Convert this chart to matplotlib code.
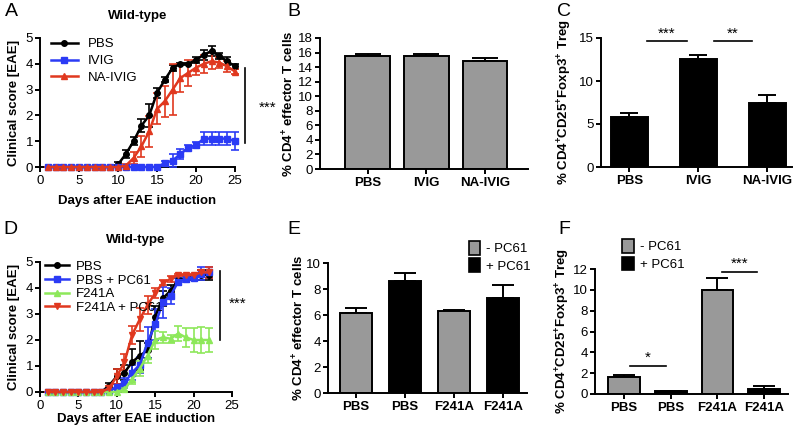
import numpy as np
from matplotlib import pyplot as plt
from matplotlib.lines import Line2D

plt.rcParams['font.family'] = ['Liberation Sans', 'DejaVu Sans']
plt.rcParams['mathtext.default'] = 'regular'
plt.rcParams['axes.linewidth'] = 1.4
plt.rcParams['xtick.major.width'] = 1.4
plt.rcParams['ytick.major.width'] = 1.4
plt.rcParams['xtick.major.size'] = 3.5
plt.rcParams['ytick.major.size'] = 3.5
plt.rcParams['xtick.major.pad'] = 2
plt.rcParams['ytick.major.pad'] = 1.5
plt.rcParams['xtick.labelsize'] = 9.5
plt.rcParams['ytick.labelsize'] = 9.5

# ---- panel A data (days 1..25)
days_a = list(range(1, 26))
pbs_a = [0] * 9 + [0.1, 0.5, 1.0, 1.6, 2.0, 2.87, 3.38, 3.84, 4.0, 4.0, 4.15, 4.35, 4.5, 4.3, 4.1, 3.9]
pbs_a_err = [0] * 9 + [0.1, 0.15, 0.15, 0.25, 0.45, 0.2, 0.1, 0.1, 0.05, 0.05, 0.1, 0.2, 0.2, 0.1, 0.15, 0.1]
ivig_a = [0] * 15 + [0.15, 0.25, 0.5, 0.75, 0.85, 1.1, 1.1, 1.1, 1.1, 1.0]
ivig_a_err = [0] * 15 + [0.1, 0.25, 0.2, 0.1, 0.1, 0.25, 0.25, 0.25, 0.25, 0.35]
naivig_a = [0] * 10 + [0.05, 0.35, 0.8, 1.38, 2.25, 2.55, 3.0, 3.45, 3.65, 3.85, 4.0, 4.1, 4.05, 3.9, 3.7]
naivig_a_err = [0] * 10 + [0.05, 0.25, 0.4, 0.6, 0.6, 0.6, 1.0, 0.55, 0.5, 0.3, 0.35, 0.3, 0.2, 0.2, 0.1]

# ---- panel B / C data
groups_bc = ['PBS', 'IVIG', 'NA-IVIG']
eff_b = [15.5, 15.5, 14.9]
eff_b_err = [0.25, 0.35, 0.35]
treg_c = [5.8, 12.6, 7.5]
treg_c_err = [0.5, 0.45, 0.85]

# ---- panel D data (days 1..22)
days_d = list(range(1, 23))
pbs_d = [0] * 8 + [0.25, 0.6, 0.75, 1.15, 1.4, 1.6, 2.9, 3.6, 3.9, 4.3, 4.4, 4.4, 4.5, 4.5]
pbs_d_err = [0] * 8 + [0.1, 0.3, 0.3, 0.5, 0.55, 0.3, 0.4, 0.3, 0.2, 0.1, 0.1, 0.1, 0.2, 0.2]
pbspc_d = [0] * 8 + [0.05, 0.2, 0.35, 0.75, 1.05, 1.9, 2.6, 3.45, 3.7, 4.25, 4.35, 4.4, 4.55, 4.6]
pbspc_d_err = [0] * 8 + [0.05, 0.1, 0.2, 0.3, 0.3, 0.6, 0.6, 0.6, 0.3, 0.15, 0.1, 0.1, 0.25, 0.2]
f241_d = [0] * 10 + [0.1, 0.5, 0.9, 1.4, 2.0, 2.1, 2.05, 2.25, 2.1, 2.0, 2.0, 2.0]
f241_d_err = [0] * 10 + [0.05, 0.2, 0.3, 0.3, 0.35, 0.2, 0.15, 0.3, 0.35, 0.45, 0.5, 0.45]
f241pc_d = [0] * 8 + [0.15, 0.6, 1.15, 2.2, 2.8, 3.35, 3.8, 4.2, 4.35, 4.5, 4.5, 4.5, 4.6, 4.6]
f241pc_d_err = [0] * 8 + [0.1, 0.3, 0.3, 0.35, 0.45, 0.35, 0.2, 0.1, 0.1, 0.05, 0.05, 0.05, 0.1, 0.2]

# ---- panel E / F data
groups_ef = ['PBS', 'PBS', 'F241A', 'F241A']
eff_e = [6.15, 8.6, 6.3, 7.3]
eff_e_err = [0.4, 0.65, 0.05, 1.0]
treg_f = [1.65, 0.25, 10.0, 0.45]
treg_f_err = [0.2, 0.03, 1.15, 0.3]

GRAY = '#999999'
BLUE = '#2b3bf5'
RED = '#e0381f'
GREEN = '#8de85a'

W, H = 797, 432
fig = plt.figure(figsize=(W / 100, H / 100), dpi=100)


def ax_px(l, t, r, b):
    return fig.add_axes([l / W, 1 - b / H, (r - l) / W, (b - t) / H])


def style(ax):
    ax.spines['top'].set_visible(False)
    ax.spines['right'].set_visible(False)


def curve(ax, x, y, e, color, marker):
    ax.errorbar(x, y, yerr=e, color=color, marker=marker, markersize=4, lw=1.8,
                elinewidth=1.2, capsize=3, capthick=1.2, clip_on=False, zorder=3)
    return Line2D([], [], color=color, marker=marker, markersize=4, lw=1.8)


def bars(ax, vals, errs, colors, width, labels):
    x = np.arange(len(vals))
    ax.bar(x, vals, width=width, color=colors, edgecolor='black', linewidth=1.4, zorder=2)
    ax.errorbar(x, vals, yerr=[np.zeros(len(errs)), errs], fmt='none', ecolor='black',
                elinewidth=1.4, capsize=width * 12, capthick=1.4, zorder=1)
    ax.set_xticks(x)
    ax.set_xticklabels(labels, fontweight='bold', fontsize=9.5)
    style(ax)


# ---- A
ax = ax_px(40, 38, 235, 167)
hs = [curve(ax, days_a, pbs_a, pbs_a_err, 'black', 'o'),
      curve(ax, days_a, ivig_a, ivig_a_err, BLUE, 's'),
      curve(ax, days_a, naivig_a, naivig_a_err, RED, '^')]
ax.set_xlim(0, 25)
ax.set_ylim(0, 5)
ax.set_xticks([0, 5, 10, 15, 20, 25])
ax.set_yticks([0, 1, 2, 3, 4, 5])
ax.set_xlabel('Days after EAE induction', fontweight='bold', fontsize=9.5, labelpad=6)
ax.set_ylabel('Clinical score [EAE]', fontweight='bold', fontsize=9.5, labelpad=4)
ax.set_title('Wild-type', fontweight='bold', fontsize=9.5, pad=14)
ax.legend(hs, ['PBS', 'IVIG', 'NA-IVIG'], loc='upper left', bbox_to_anchor=(0.03, 1.04),
          frameon=False, fontsize=9.5, handlelength=2.0, labelspacing=0.35, borderaxespad=0)
ax.plot([26.3, 26.3], [0.93, 3.85], color='black', lw=1.2, clip_on=False)
ax.text(28.0, 2.3, '***', fontsize=11, ha='left', va='center')
style(ax)
fig.text(5 / W, 1 - 12 / H, 'A', fontsize=14, va='center')

# ---- B
ax = ax_px(320, 38, 528, 169)
bars(ax, eff_b, eff_b_err, [GRAY] * 3, 0.76, groups_bc)
ax.set_xlim(-0.81, 2.73)
ax.set_ylim(0, 18)
ax.set_yticks(range(0, 19, 2))
ax.set_ylabel('% CD4$^{+}$ effector T cells', fontweight='bold', fontsize=9.5, labelpad=1)
fig.text(287 / W, 1 - 12 / H, 'B', fontsize=14, va='center')

# ---- C
ax = ax_px(601, 38, 792, 167)
bars(ax, treg_c, treg_c_err, ['black'] * 3, 0.54, groups_bc)
ax.set_xlim(-0.41, 2.36)
ax.set_ylim(0, 15)
ax.set_yticks([0, 5, 10, 15])
ax.set_ylabel('% CD4$^{+}$CD25$^{+}$Foxp3$^{+}$ Treg', fontweight='bold', fontsize=9.5, labelpad=4)
ax.plot([0.25, 0.83], [14.6, 14.6], color='black', lw=1.2, clip_on=False)
ax.text(0.54, 14.7, '***', ha='center', va='bottom', fontsize=11)
ax.plot([1.23, 1.78], [14.6, 14.6], color='black', lw=1.2, clip_on=False)
ax.text(1.5, 14.7, '**', ha='center', va='bottom', fontsize=11)
fig.text(557 / W, 1 - 12 / H, 'C', fontsize=14, va='center')

# ---- D
ax = ax_px(40, 262, 232, 392)
hs = [curve(ax, days_d, pbs_d, pbs_d_err, 'black', 'o'),
      curve(ax, days_d, pbspc_d, pbspc_d_err, BLUE, 's'),
      curve(ax, days_d, f241_d, f241_d_err, GREEN, '^'),
      curve(ax, days_d, f241pc_d, f241pc_d_err, RED, 'v')]
ax.set_xlim(0, 25)
ax.set_ylim(0, 5)
ax.set_xticks([0, 5, 10, 15, 20, 25])
ax.set_yticks([0, 1, 2, 3, 4, 5])
ax.set_xlabel('Days after EAE induction', fontweight='bold', fontsize=9.5, labelpad=1)
ax.set_ylabel('Clinical score [EAE]', fontweight='bold', fontsize=9.5, labelpad=4)
ax.set_title('Wild-type', fontweight='bold', fontsize=9.5, pad=14)
ax.legend(hs, ['PBS', 'PBS + PC61', 'F241A', 'F241A + PC61'], loc='upper left',
          bbox_to_anchor=(0.0, 1.05), frameon=False, fontsize=9.5, handlelength=1.8,
          labelspacing=0.1, borderaxespad=0, handletextpad=0.5)
ax.plot([23.4, 23.4], [2.0, 4.65], color='black', lw=1.2, clip_on=False)
ax.text(24.6, 3.4, '***', fontsize=11, ha='left', va='center')
style(ax)
fig.text(3 / W, 1 - 229 / H, 'D', fontsize=14, va='center')

# ---- E
ax = ax_px(328, 263, 527, 393)
bars(ax, eff_e, eff_e_err, [GRAY, 'black', GRAY, 'black'], 0.65, groups_ef)
ax.set_xlim(-0.57, 3.49)
ax.set_ylim(0, 10)
ax.set_yticks(range(0, 11, 2))
ax.set_ylabel('% CD4$^{+}$ effector T cells', fontweight='bold', fontsize=9.5, labelpad=0)
h1 = plt.Rectangle((0, 0), 1, 1, facecolor=GRAY, edgecolor='black', lw=1.2)
h2 = plt.Rectangle((0, 0), 1, 1, facecolor='black', edgecolor='black', lw=1.2)
ax.legend([h1, h2], ['- PC61', '+ PC61'], loc='upper left', bbox_to_anchor=(0.68, 1.21),
          frameon=False, fontsize=9.5, handlelength=0.9, handleheight=1.2, labelspacing=0.25,
          borderaxespad=0, handletextpad=0.4)
fig.text(287 / W, 1 - 229 / H, 'E', fontsize=14, va='center')

# ---- F
ax = ax_px(595, 269, 788, 394)
bars(ax, treg_f, treg_f_err, [GRAY, 'black', GRAY, 'black'], 0.68, groups_ef)
ax.set_xlim(-0.62, 3.51)
ax.set_ylim(0, 12)
ax.set_yticks(range(0, 13, 2))
ax.set_ylabel('% CD4$^{+}$CD25$^{+}$Foxp3$^{+}$ Treg', fontweight='bold', fontsize=9.5, labelpad=1)
ax.plot([0.13, 0.89], [2.7, 2.7], color='black', lw=1.2, clip_on=False)
ax.text(0.51, 2.8, '*', ha='center', va='bottom', fontsize=11)
ax.plot([2.1, 2.85], [11.7, 11.7], color='black', lw=1.2, clip_on=False)
ax.text(2.47, 11.8, '***', ha='center', va='bottom', fontsize=11)
ax.legend([h1, h2], ['- PC61', '+ PC61'], loc='upper left', bbox_to_anchor=(0.115, 1.28),
          frameon=False, fontsize=9.5, handlelength=0.9, handleheight=1.2, labelspacing=0.25,
          borderaxespad=0, handletextpad=0.4)
fig.text(558 / W, 1 - 229 / H, 'F', fontsize=14, va='center')

fig.savefig('out.png', dpi=100)
